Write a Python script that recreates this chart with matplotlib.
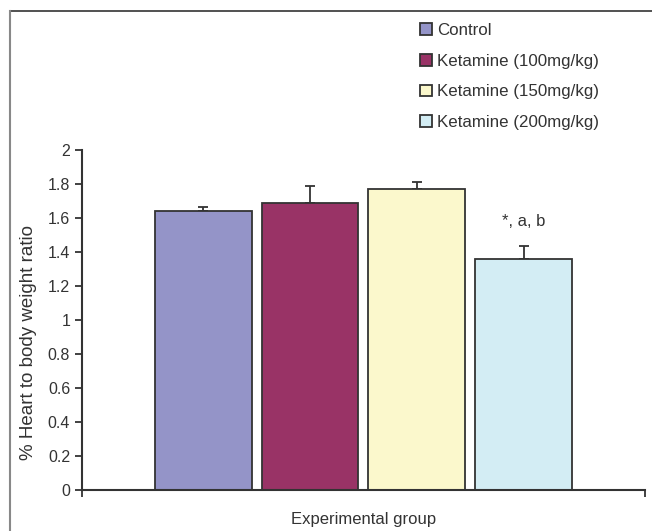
import numpy as np
import matplotlib.pyplot as plt
from matplotlib.lines import Line2D

plt.rcParams['font.family'] = ['Liberation Sans', 'DejaVu Sans']

groups = ['Control', 'Ketamine (100mg/kg)', 'Ketamine (150mg/kg)', 'Ketamine (200mg/kg)']
ratio = [1.64, 1.69, 1.77, 1.36]
sem = [0.025, 0.10, 0.04, 0.075]
colors = ['#9494c8', '#993366', '#fbf8cc', '#d3edf4']
sig_label = '*, a, b'

fig = plt.figure(figsize=(6.52, 5.31), dpi=100)
ax = fig.add_axes([0.1258, 0.0772, 0.8632, 0.6403])

x = np.arange(len(groups))
for i in range(len(groups)):
    ax.bar(x[i], ratio[i], width=0.907, color=colors[i], edgecolor='#333333',
           linewidth=1.3, label=groups[i], zorder=2)
    ax.errorbar(x[i], ratio[i], yerr=[[0], [sem[i]]], fmt='none', ecolor='#333333',
                elinewidth=1.3, capsize=3.5, capthick=1.3, zorder=1)

ax.text(x[3], ratio[3] + sem[3] + 0.1, sig_label, ha='center', va='bottom',
        fontsize=12, color='#333333')

ax.set_xlim(-1.136, 4.136)
ax.set_ylim(0, 2)
ax.set_yticks(np.arange(0, 2.01, 0.2))
ax.set_yticklabels(['0', '0.2', '0.4', '0.6', '0.8', '1', '1.2', '1.4', '1.6', '1.8', '2'])
ax.set_xticks([-1.136, 4.136])
ax.set_xticklabels(['', ''])
ax.tick_params(axis='both', direction='out', length=5, width=1.3, color='#333333',
               labelsize=11.5, labelcolor='#333333')
for side in ['top', 'right']:
    ax.spines[side].set_visible(False)
for side in ['left', 'bottom']:
    ax.spines[side].set_color('#333333')
    ax.spines[side].set_linewidth(1.5)

ax.set_ylabel('% Heart to body weight ratio', fontsize=13.5, color='#333333')
ax.yaxis.set_label_coords(-0.08, 0.435)
ax.set_xlabel('Experimental group', fontsize=12, color='#333333', va='center')
ax.xaxis.set_label_coords(0.5, -0.088)

fig.legend(loc='upper left', bbox_to_anchor=(0.621, 0.985), frameon=False,
           fontsize=12.2, handlelength=0.7, handleheight=0.7, handletextpad=0.3,
           labelspacing=0.92, labelcolor='#333333')

# outer frame lines
fig.add_artist(Line2D([10 / 652, 1], [1 - 11 / 531, 1 - 11 / 531], color='#333333', lw=1.2))
fig.add_artist(Line2D([10 / 652, 10 / 652], [0, 1 - 11 / 531], color='#888888', lw=1.5))

fig.savefig('out.png', dpi=100)
